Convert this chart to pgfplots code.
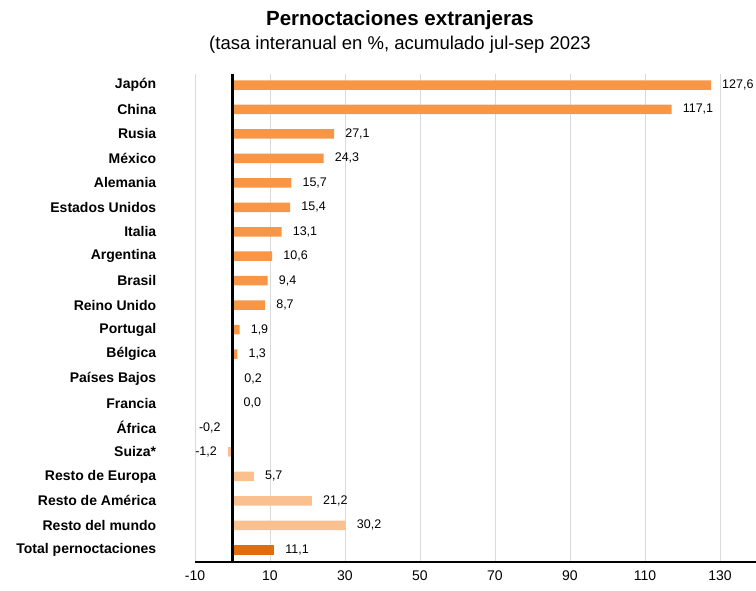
\documentclass[border=0pt]{standalone}
\usepackage{pgfplots}
\pgfplotsset{compat=1.18}
\usepackage{fontspec}
\setmainfont{Liberation Sans}
\definecolor{naranja}{RGB}{247,150,70}
\definecolor{claro}{RGB}{250,192,143}
\definecolor{total}{RGB}{228,108,10}
\begin{document}
\begin{tikzpicture}[x=1pt,y=1pt]
\begin{axis}[
  at={(0,0)}, anchor=south west,
  scale only axis,
  width=561pt, height=488pt,
  xbar, bar width=9.5pt, bar shift=0pt,
  xmin=-10, xmax=139.6,
  ymin=-0.45, ymax=19.5,
  y dir=reverse,
  xtick={-10,10,30,50,70,90,110,130},
  ytick={0,...,19},
  yticklabels={Japón, China, Rusia, México, Alemania, Estados Unidos, Italia,
    Argentina, Brasil, Reino Unido, Portugal, Bélgica, Países Bajos, Francia,
    África, Suiza*, Resto de Europa, Resto de América, Resto del mundo,
    Total pernoctaciones},
  yticklabel style={font=\fontsize{14}{16}\selectfont\bfseries, anchor=east, xshift=-31pt},
  xticklabel style={font=\fontsize{14}{16}\selectfont, yshift=-5pt},
  /pgf/number format/assume math mode=true,
  axis x line*=bottom, axis y line*=left,
  y axis line style={draw=none},
  x axis line style={line width=1.5pt},
  tick style={draw=none},
  xmajorgrids,
  major grid style={line width=0.8pt, black!15},
  nodes near coords,
  nodes near coords style={font=\fontsize{12.5}{14}\selectfont, inner xsep=11pt,
    /pgf/number format/.cd, fixed, fixed zerofill, precision=1, use comma, assume math mode=true},
  every axis plot/.append style={draw=none},
]
\addplot[fill=naranja] coordinates {
  (127.6,0) (117.1,1) (27.1,2) (24.3,3) (15.7,4) (15.4,5) (13.1,6)
  (10.6,7) (9.4,8) (8.7,9) (1.9,10) (1.3,11) (0.2,12) (0.0,13) (-0.2,14)};
\addplot[fill=claro] coordinates {
  (-1.2,15) (5.7,16) (21.2,17) (30.2,18)};
\addplot[fill=total] coordinates {(11.1,19)};
\draw[black, line width=3.5pt] (axis cs:0,-0.45) -- (axis cs:0,19.5);
\end{axis}
\node[font=\fontsize{20.5}{23}\selectfont\bfseries] at (205,542) {Pernoctaciones extranjeras};
\node[font=\fontsize{18.5}{21}\selectfont] at (205,517) {(tasa interanual en \%, acumulado jul-sep 2023};
\pgfresetboundingbox
\useasboundingbox (-195,-28) rectangle (561,562);
\end{tikzpicture}
\end{document}
